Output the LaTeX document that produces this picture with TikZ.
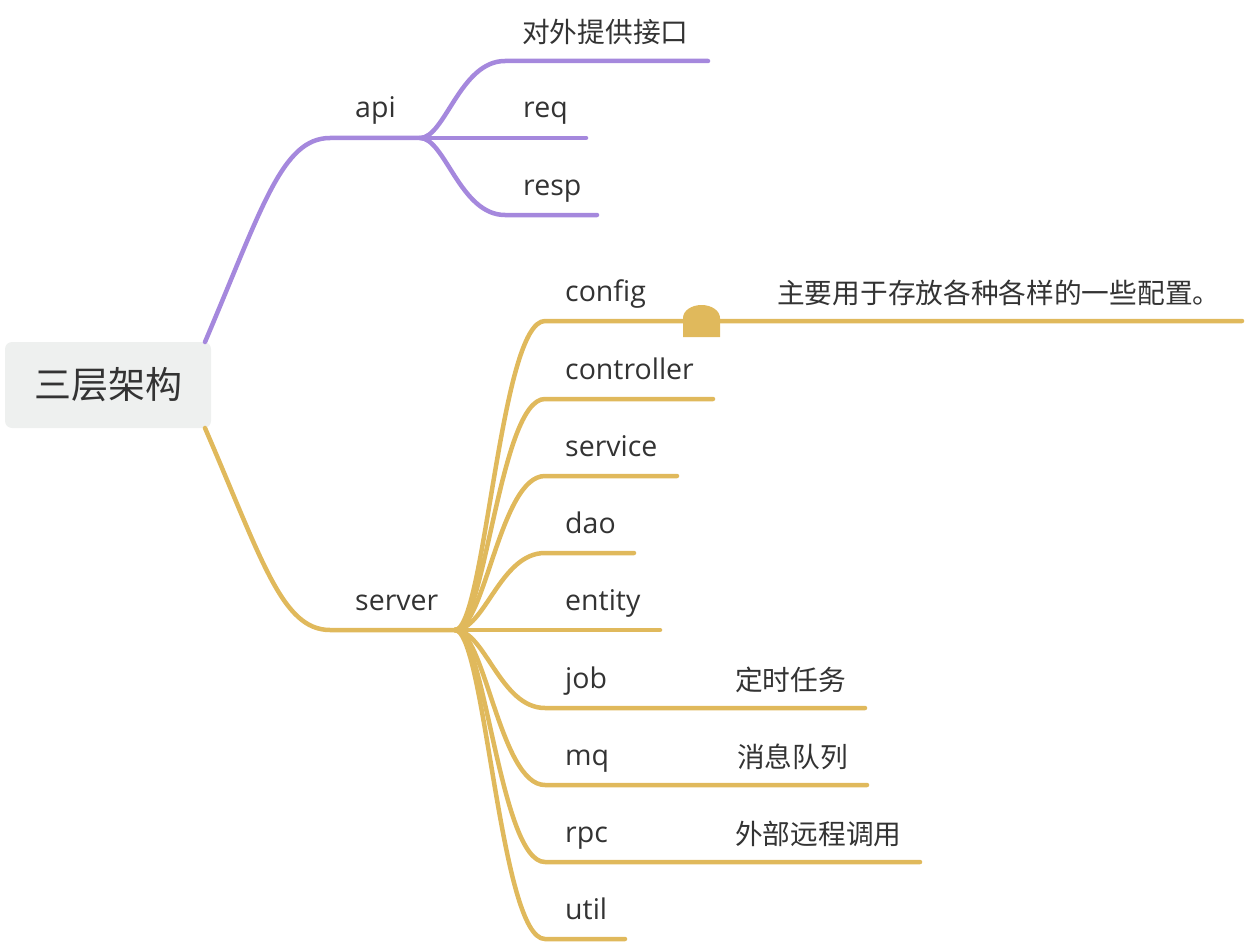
\documentclass[tikz,border=0pt]{standalone}
\usepackage{fontspec}
\setmainfont{Open Sans}
\newfontfamily\cjk{Noto Sans CJK SC}
\definecolor{purp}{HTML}{A588DD}
\definecolor{gold}{HTML}{E0B95C}
\definecolor{rootbg}{HTML}{EEF0EF}
\definecolor{txt}{HTML}{333333}
\begin{document}
\begin{tikzpicture}[x=1pt,y=-1pt,
  lbl/.style={anchor=base west, inner sep=0pt, text=txt, font=\fontsize{28.5}{33}\selectfont},
  clbl/.style={anchor=base west, inner sep=0pt, text=txt, font=\fontsize{27.7}{33}\selectfont\cjk},
  rootbox/.style={fill=rootbg, rounded corners=7pt, minimum width=206pt, minimum height=86pt, inner sep=0pt, text=txt, font=\fontsize{37}{44}\selectfont\cjk},
  pline/.style={draw=purp, line width=4.5pt, line cap=round},
  gline/.style={draw=gold, line width=4.5pt, line cap=round}]
\useasboundingbox (0,0) rectangle (1246,944);

% root
\node[rootbox] (root) at (108,385) {三层架构};
\coordinate (rA) at (205,342);
\coordinate (rB) at (205,428);

% api branch
\coordinate (api0) at (330,138);
\coordinate (api1) at (420,138);
\node[lbl] (api) at (355,118) {api};
\draw[pline] (rA) .. controls (262,208) and (282,138) .. (api0) -- (api1);

\coordinate (ia) at (505,61);  \coordinate (ib) at (708,61);
\coordinate (qb) at (586,138);
\coordinate (sa) at (505,215); \coordinate (sb) at (597,215);
\draw[pline] (api1) .. controls +(25,0) and +(-45,0) .. (ia) -- (ib);
\draw[pline] (api1) -- (qb);
\draw[pline] (api1) .. controls +(25,0) and +(-45,0) .. (sa) -- (sb);
\node[clbl] (iface) at (522,43) {对外提供接口};
\node[lbl] (req) at (523,118) {req};
\node[lbl] (resp) at (523,195) {resp};

% server branch
\coordinate (srv0) at (330,630);
\coordinate (srv1) at (455,630);
\node[lbl] (server) at (355,610) {server};
\draw[gline] (rB) .. controls (262,560) and (282,630) .. (srv0) -- (srv1);

\foreach \n/\y/\e in {config/321/1242, controller/399/713, service/476/677, dao/553/634,
                      entity/630/660, job/708/865, mq/785/867, rpc/862/920, util/939/625}{
  \coordinate (\n-a) at (545,\y);
  \coordinate (\n-b) at (\e,\y);
  \draw[gline] (srv1) .. controls +(30,0) and +(-45,0) .. (\n-a) -- (\n-b);
  \node[lbl] (\n) at (565,\y-20) {\n};
}

% config marker
\fill[gold] (683,337) -- (683,318) arc[start angle=180, end angle=360, x radius=18.5, y radius=13] -- (720,337) -- cycle;

% details
\node[clbl] (cfgnote) at (777,303) {主要用于存放各种各样的一些配置。};
\node[clbl] (jobnote) at (735,690) {定时任务};
\node[clbl] (mqnote) at (737,767) {消息队列};
\node[clbl] (rpcnote) at (735,844) {外部远程调用};
\end{tikzpicture}
\end{document}
